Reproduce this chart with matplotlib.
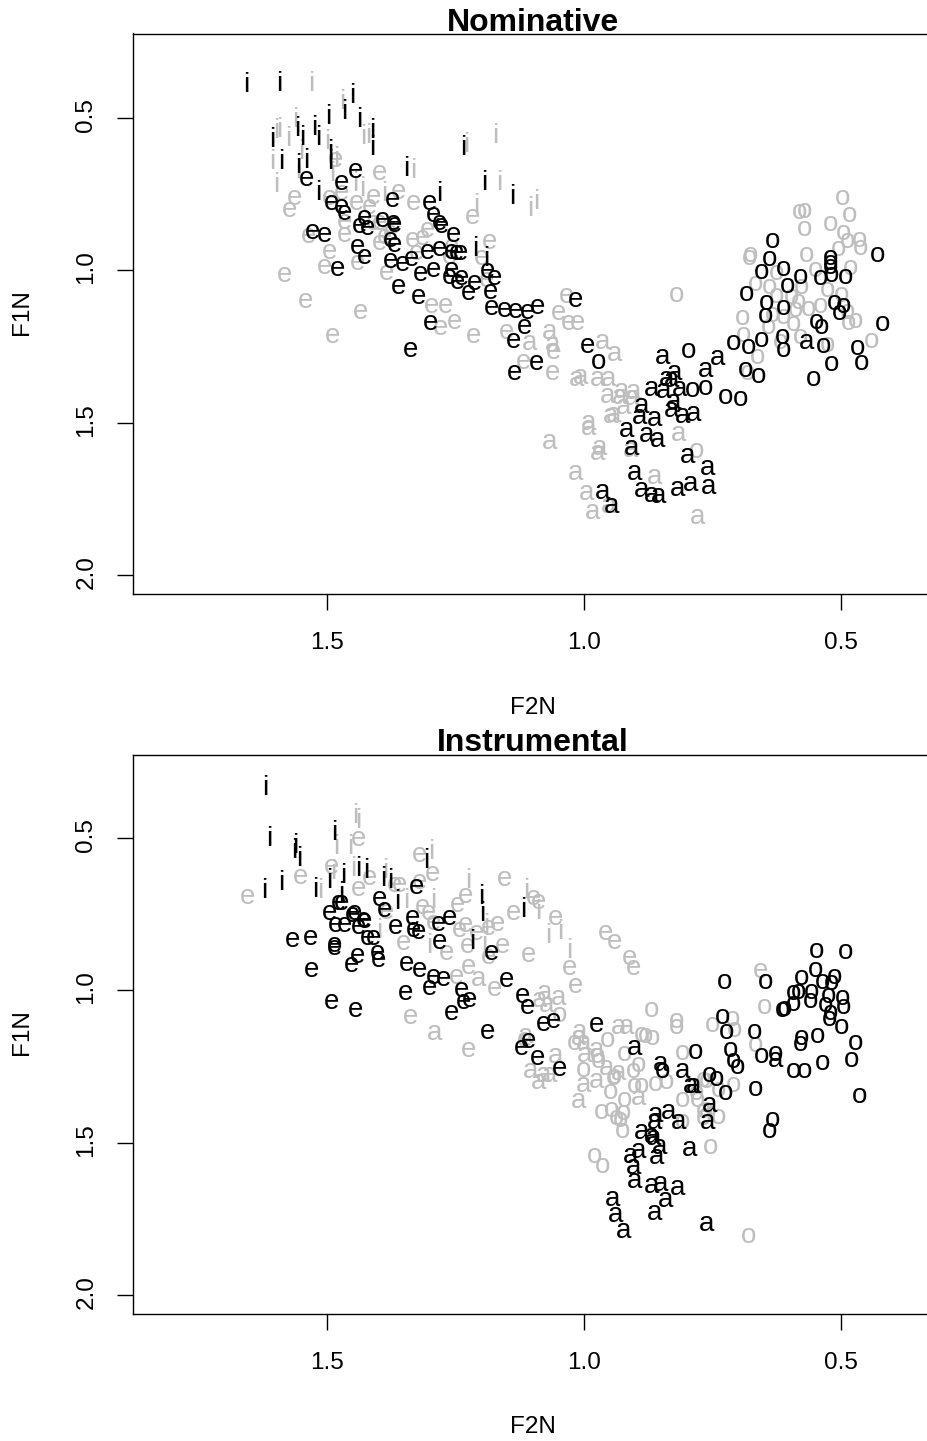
import matplotlib
matplotlib.use("Agg")
import matplotlib.pyplot as plt
from matplotlib.transforms import ScaledTranslation

plt.rcParams['font.family'] = ['Liberation Sans', 'DejaVu Sans']

GRAY = '#BEBEBE'
W, H = 928, 1441

# Nominative (F2N, F1N)
nom_i_black = [(1.657,.391),(1.592,.389),(1.451,.427),(1.466,.480),(1.498,.498),(1.524,.533),(1.516,.566),(1.437,.506),(1.412,.542),(1.411,.597),(1.607,.572),(1.548,.567),(1.557,.537),(1.588,.646),(1.555,.657),(1.540,.640),(1.494,.613),(1.494,.646),(1.235,.597),(1.345,.668),(1.281,.750),(1.194,.714),(1.139,.758),(1.211,.930),(1.517,.746),(1.189,.963)]
nom_i_gray = [(1.531,.387),(1.470,.449),(1.562,.506),(1.593,.540),(1.598,.542),(1.575,.569),(1.499,.580),(1.429,.564),(1.420,.558),(1.607,.644),(1.549,.611),(1.556,.673),(1.599,.720),(1.489,.684),(1.481,.635),(1.444,.717),(1.431,.733),(1.332,.673),(1.229,.589),(1.172,.558),(1.165,.714),(1.210,.790),(1.105,.799),(1.092,.777),(1.389,.750)]
nom_e_black = [(1.540,.700),(1.444,.673),(1.472,.714),(1.491,.780),(1.472,.791),(1.465,.813),(1.504,.884),(1.528,.875),(1.480,.996),(1.441,.922),(1.426,.955),(1.436,.853),(1.420,.862),(1.426,.829),(1.392,.835),(1.371,.846),(1.369,.851),(1.373,.769),(1.300,.780),(1.292,.818),(1.281,.846),(1.277,.853),(1.254,.884),(1.368,.917),(1.377,.900),(1.377,.969),(1.353,.980),(1.335,.963),(1.305,.941),(1.281,.931),(1.240,.944),(1.257,.999),(1.261,1.023),(1.246,1.037),(1.238,1.026),(1.212,1.042),(1.224,1.075),(1.181,1.072),(1.188,1.002),(1.173,1.024),(1.360,1.055),(1.321,1.088),(1.317,1.012),(1.292,.999),(1.298,1.173),(1.337,1.261),(1.180,1.124),(1.154,1.130),(1.132,1.132),(1.109,1.137),(1.091,1.119),(1.115,1.184),(1.137,1.231),(1.093,1.302),(1.135,1.337),(1.257,.938),(1.248,.944),(1.017,1.097),(.993,1.248)]
nom_e_gray = [(1.483,.638),(1.397,.682),(1.562,.764),(1.573,.802),(1.494,.764),(1.472,.747),(1.442,.780),(1.409,.758),(1.361,.742),(1.332,.780),(1.416,.791),(1.465,.840),(1.465,.884),(1.535,.886),(1.494,.938),(1.504,.988),(1.441,.977),(1.384,1.010),(1.582,1.015),(1.542,1.099),(1.435,1.135),(1.488,1.215),(1.305,.867),(1.313,.895),(1.333,.900),(1.397,.911),(1.387,.889),(1.377,.878),(1.325,.944),(1.257,.922),(1.261,.955),(1.199,.960),(1.217,.826),(1.184,.906),(1.189,1.031),(1.296,1.117),(1.270,1.117),(1.279,1.190),(1.251,1.168),(1.215,1.215),(1.150,1.201),(1.118,1.299),(1.061,1.337),(1.059,1.266),(1.033,1.084),(1.050,1.141),(1.410,.846),(1.397,.846),(1.030,1.173),(1.013,1.173)]
nom_o_black = [(.633,.905),(.638,.963),(.612,.996),(.654,1.004),(.604,1.051),(.579,1.020),(.540,1.026),(.519,1.015),(.492,1.020),(.429,.949),(.683,1.077),(.644,1.108),(.647,1.151),(.612,1.124),(.512,1.106),(.495,1.116),(.503,1.141),(.548,1.168),(.537,1.184),(.420,1.175),(.709,1.239),(.680,1.250),(.655,1.228),(.614,1.217),(.612,1.261),(.534,1.247),(.468,1.255),(.518,1.307),(.460,1.302),(.553,1.356),(.685,1.328),(.660,1.346),(.797,1.263),(.972,1.299),(.789,1.392),(.763,1.384),(.725,1.416),(.695,1.423),(.521,.960),(.520,.977),(.521,.990)]
nom_o_gray = [(.496,.763),(.581,.807),(.570,.804),(.483,.818),(.521,.849),(.571,.865),(.494,.878),(.464,.900),(.488,.905),(.461,.927),(.505,.931),(.566,.949),(.482,.993),(.550,.998),(.625,1.009),(.667,1.044),(.638,1.053),(.576,1.053),(.527,1.064),(.498,1.080),(.625,1.084),(.596,1.086),(.583,1.102),(.540,1.116),(.563,1.127),(.589,1.130),(.612,1.154),(.634,1.146),(.488,1.135),(.485,1.173),(.472,1.165),(.691,1.157),(.641,1.184),(.592,1.175),(.690,1.212),(.579,1.217),(.440,1.231),(.618,1.233),(.527,1.244),(.662,1.283),(.682,1.335),(.819,1.080),(.781,1.591),(.675,.949),(.677,.960)]
nom_a_black = [(.847,1.283),(.764,1.326),(.740,1.286),(.823,1.337),(.839,1.356),(.829,1.359),(.868,1.390),(.845,1.394),(.813,1.390),(.888,1.444),(.892,1.482),(.862,1.488),(.826,1.430),(.829,1.457),(.808,1.476),(.787,1.472),(.917,1.523),(.878,1.539),(.857,1.556),(.908,1.581),(.798,1.610),(.760,1.649),(.901,1.665),(.888,1.720),(.868,1.736),(.855,1.740),(.817,1.716),(.793,1.700),(.758,1.709),(.963,1.727),(.946,1.772),(.566,1.236)]
nom_a_gray = [(1.066,1.201),(1.105,1.239),(1.061,1.244),(.964,1.236),(.941,1.274),(1.006,1.348),(1.014,1.357),(.974,1.356),(.952,1.357),(.954,1.412),(.926,1.394),(.904,1.397),(.922,1.447),(.943,1.474),(.948,1.477),(.991,1.501),(.991,1.518),(1.067,1.561),(.970,1.583),(.974,1.600),(.910,1.589),(.815,1.537),(.862,1.676),(1.017,1.663),(.995,1.729),(.983,1.791),(.952,1.774),(.779,1.807),(.930,1.414),(.907,1.419)]

# Instrumental (F2N, F1N)
ins_i_black = [(1.620,.336),(1.612,.504),(1.562,.525),(1.564,.542),(1.553,.569),(1.485,.485),(1.588,.648),(1.622,.675),(1.522,.670),(1.496,.640),(1.468,.626),(1.438,.602),(1.424,.607),(1.472,.684),(1.391,.633),(1.377,.640),(1.306,.575),(1.199,.692),(1.363,.711),(1.118,.736),(1.197,.750),(1.217,.842)]
ins_i_gray = [(1.444,.427),(1.438,.443),(1.481,.531),(1.455,.528),(1.512,.673),(1.487,.613),(1.448,.602),(1.387,.607),(1.296,.547),(1.225,.640),(1.113,.673),(1.089,.744),(1.293,.706),(1.345,.706),(1.398,.804),(1.300,.853),(1.193,.848),(1.069,.821),(1.046,.810),(1.029,.870),(1.189,.788)]
ins_e_black = [(1.478,.714),(1.472,.714),(1.397,.701),(1.326,.660),(1.494,.747),(1.446,.747),(1.449,.752),(1.387,.736),(1.429,.769),(1.426,.774),(1.439,.791),(1.483,.785),(1.465,.785),(1.366,.791),(1.283,.783),(1.261,.763),(1.333,.763),(1.332,.802),(1.322,.807),(1.566,.834),(1.531,.829),(1.420,.829),(1.409,.829),(1.281,.842),(1.485,.851),(1.485,.862),(1.440,.887),(1.452,.916),(1.402,.876),(1.400,.900),(1.530,.933),(1.345,.913),(1.320,.933),(1.293,.957),(1.272,.963),(1.301,.993),(1.346,1.007),(1.237,.998),(1.150,.966),(1.119,1.018),(1.109,1.055),(1.235,1.037),(1.223,1.031),(1.257,1.073),(1.490,1.037),(1.444,1.066),(1.188,1.138),(1.079,1.110),(1.059,1.099),(1.108,1.165),(1.121,1.190),(1.091,1.222),(1.180,.876),(.975,1.113),(1.047,1.258)]
ins_e_gray = [(1.655,.692),(1.490,.594),(1.551,.629),(1.439,.504),(1.416,.632),(1.439,.668),(1.319,.556),(1.294,.618),(1.368,.654),(1.358,.654),(1.320,.643),(1.098,.698),(1.089,.709),(1.154,.635),(1.230,.690),(1.246,.720),(1.137,.747),(1.313,.725),(1.303,.747),(1.055,.761),(1.351,.845),(1.267,.876),(1.227,.856),(1.158,.856),(1.108,.884),(1.186,.892),(1.028,.927),(1.225,.922),(1.248,.955),(1.173,.996),(1.016,.987),(1.337,1.086),(1.225,1.195),(1.231,.785),(1.242,.802),(1.209,.813),(1.186,.796),(1.167,.783),(1.293,.780),(1.384,.742),(1.115,1.162),(.957,.813),(.940,.840),(.912,.894),(.904,.927),(.656,.935)]
ins_o_black = [(.547,.870),(.492,.873),(.727,.974),(.646,.974),(.550,.933),(.577,.960),(.535,.971),(.512,.957),(.518,.976),(.592,1.009),(.583,1.006),(.558,1.004),(.524,1.018),(.560,1.034),(.592,1.044),(.609,1.062),(.613,1.064),(.529,1.048),(.496,1.026),(.495,1.055),(.521,1.075),(.522,1.095),(.730,1.088),(.723,1.135),(.669,1.135),(.498,1.119),(.545,1.151),(.577,1.157),(.579,1.175),(.471,1.173),(.714,1.195),(.782,1.201),(.655,1.215),(.627,1.208),(.708,1.231),(.701,1.253),(.479,1.228),(.536,1.237),(.592,1.264),(.571,1.264),(.667,1.323),(.464,1.345),(.634,1.425),(.639,1.463),(.755,1.277),(.742,1.290),(.725,1.337),(.847,1.266)]
ins_o_gray = [(.869,1.064),(.819,1.102),(.819,1.119),(1.048,1.080),(.710,1.095),(.706,1.130),(.750,1.113),(.667,1.179),(.648,1.053),(.888,1.146),(.881,1.149),(.867,1.157),(.954,1.162),(1.019,1.173),(.920,1.208),(.808,1.206),(.974,1.217),(.971,1.233),(.894,1.244),(1.001,1.261),(.904,1.266),(.940,1.283),(.943,1.288),(.902,1.315),(.888,1.315),(.860,1.308),(.839,1.301),(.949,1.334),(.920,1.359),(.808,1.359),(.779,1.359),(.768,1.293),(.761,1.299),(.738,1.326),(.709,1.310),(.965,1.399),(.946,1.392),(.936,1.419),(.922,1.403),(.929,1.425),(.925,1.461),(.808,1.433),(.768,1.397),(.768,1.419),(.738,1.417),(.753,1.514),(.980,1.545),(.963,1.575),(.680,1.807),(.781,1.337)]
ins_a_black = [(.901,1.190),(.851,1.242),(.808,1.263),(.793,1.313),(.787,1.315),(.860,1.408),(.836,1.399),(.862,1.433),(.815,1.433),(.760,1.433),(.756,1.375),(.888,1.465),(.868,1.479),(.864,1.485),(.852,1.514),(.858,1.548),(.893,1.528),(.909,1.542),(.904,1.580),(.902,1.627),(.868,1.641),(.851,1.636),(.818,1.649),(.841,1.689),(.863,1.731),(.944,1.684),(.938,1.736),(.923,1.791),(.761,1.767),(.795,1.521),(.628,1.228)]
ins_a_gray = [(1.076,1.009),(1.073,1.048),(1.050,1.026),(1.086,1.031),(1.113,1.151),(1.056,1.215),(1.103,1.266),(1.089,1.302),(1.079,1.277),(1.066,1.277),(1.008,1.135),(1.011,1.157),(1.001,1.173),(.933,1.121),(.917,1.119),(.975,1.195),(.998,1.212),(.956,1.255),(.933,1.272),(.975,1.299),(1.001,1.310),(1.010,1.364),(.894,1.354),(.761,1.392),(1.204,.963),(1.290,1.140)]

x_ticks = [1.5, 1.0, 0.5]
y_ticks = [0.5, 1.0, 1.5, 2.0]
x_lim = (1.877, 0.321)

panels = [
    dict(title='Nominative', top=33.5, bottom=594, ylim=(2.061, 0.223), title_y=31, label_y=708,
         gray=[('i', nom_i_gray), ('e', nom_e_gray), ('a', nom_a_gray), ('o', nom_o_gray)],
         black=[('i', nom_i_black), ('e', nom_e_black), ('a', nom_a_black), ('o', nom_o_black)]),
    dict(title='Instrumental', top=754.5, bottom=1314, ylim=(2.062, 0.226), title_y=751, label_y=1427,
         gray=[('i', ins_i_gray), ('e', ins_e_gray), ('a', ins_a_gray), ('o', ins_o_gray)],
         black=[('i', ins_i_black), ('e', ins_e_black), ('a', ins_a_black), ('o', ins_o_black)]),
]

fig = plt.figure(figsize=(W / 100, H / 100), dpi=100, facecolor='white')
left, right = 133, 933
up = ScaledTranslation(0, 3 / 100, fig.dpi_scale_trans)

for p in panels:
    ax = fig.add_axes([left / W, 1 - p['bottom'] / H, (right - left) / W, (p['bottom'] - p['top']) / H])
    ax.set_xlim(*x_lim)
    ax.set_ylim(*p['ylim'])
    for s in ax.spines.values():
        s.set_linewidth(1.0)
    ax.set_xticks(x_ticks, [f'{v:.1f}' for v in x_ticks])
    ax.set_yticks(y_ticks, [f'{v:.1f}' for v in y_ticks])
    ax.tick_params(axis='both', length=11.7, width=1.0, labelsize=17.5)
    ax.tick_params(axis='x', pad=16)
    ax.tick_params(axis='y', pad=14)
    for t in ax.get_yticklabels():
        t.set_rotation(90)
        t.set_va('center')
        t.set_transform(t.get_transform() + up)
    for colour, key in ((GRAY, 'gray'), ('black', 'black')):
        for letter, pts in p[key]:
            for f2, f1 in pts:
                ax.text(f2, f1, letter, color=colour, fontsize=20, ha='center', va='center', clip_on=True)
    fig.text(533 / W, 1 - p['title_y'] / H, p['title'], fontsize=23, fontweight='bold', ha='center', va='baseline')
    fig.text(533 / W, 1 - p['label_y'] / H, 'F2N', fontsize=17.5, ha='center', va='center')
    fig.text(22 / W, 1 - ((p['top'] + p['bottom']) / 2 - 2) / H, 'F1N', fontsize=17.5, rotation=90, ha='center', va='center')

fig.savefig('out.png', dpi=100)
